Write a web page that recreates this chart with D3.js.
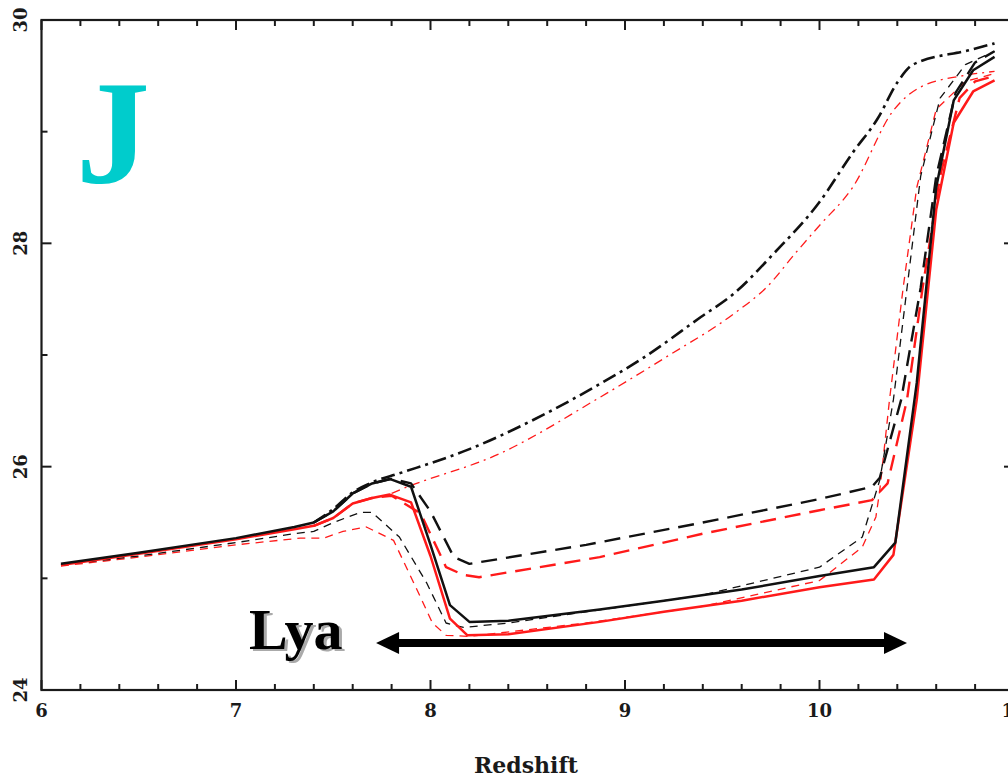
<!DOCTYPE html>
<html><head><meta charset="utf-8">
<script src="https://cdn.jsdelivr.net/npm/d3@7"></script>
<style>html,body{margin:0;padding:0;background:#fff;overflow:hidden}</style>
</head><body>
<svg id="c" width="1008" height="779"></svg>
<script>
// ---- data ----
const xTicksMajor = [6,7,8,9,10,11];
const yTicksMajor = [24,26,28,30];
const blackSolid = [[6.1,25.13],[6.5,25.23],[7.0,25.36],[7.3,25.46],[7.4,25.5],[7.5,25.6],[7.6,25.76],[7.7,25.85],[7.79,25.89],[7.9,25.82],[8.0,25.3],[8.1,24.76],[8.2,24.61],[8.4,24.62],[8.87,24.72],[9.2,24.8],[9.6,24.9],[10.0,25.02],[10.28,25.1],[10.39,25.32],[10.5,26.75],[10.6,28.5],[10.69,29.28],[10.79,29.55],[10.9,29.67]];
const redSolid = [[6.1,25.12],[6.5,25.22],[7.0,25.35],[7.3,25.44],[7.4,25.47],[7.5,25.54],[7.6,25.67],[7.7,25.72],[7.79,25.75],[7.9,25.68],[8.0,25.2],[8.1,24.64],[8.19,24.49],[8.4,24.5],[8.87,24.61],[9.2,24.7],[9.6,24.8],[10.0,24.92],[10.28,24.99],[10.38,25.21],[10.5,26.6],[10.6,28.3],[10.69,29.08],[10.79,29.36],[10.9,29.46]];
const blackLongDash = [[7.4,25.5],[7.5,25.6],[7.6,25.76],[7.7,25.85],[7.8,25.89],[7.9,25.85],[8.0,25.6],[8.12,25.19],[8.2,25.13],[8.8,25.3],[9.4,25.5],[10.0,25.71],[10.27,25.82],[10.31,25.9],[10.42,26.6],[10.52,27.6],[10.6,28.6],[10.7,29.35],[10.8,29.62],[10.9,29.72]];
const redLongDash = [[7.4,25.47],[7.5,25.54],[7.6,25.67],[7.7,25.72],[7.8,25.74],[7.95,25.58],[8.08,25.1],[8.17,25.03],[8.25,25.01],[8.87,25.19],[9.4,25.4],[10.0,25.61],[10.27,25.7],[10.35,25.85],[10.45,26.6],[10.53,27.6],[10.62,28.6],[10.72,29.3],[10.8,29.45],[10.9,29.5]];
const blackShortDash = [[6.1,25.12],[6.5,25.2],[7.0,25.32],[7.3,25.4],[7.4,25.42],[7.5,25.5],[7.64,25.59],[7.7,25.59],[7.84,25.37],[7.98,24.96],[8.08,24.6],[8.17,24.56],[8.4,24.6],[8.8,24.7],[9.4,24.85],[10.0,25.1],[10.22,25.37],[10.31,25.88],[10.38,26.6],[10.45,27.6],[10.52,28.6],[10.62,29.3],[10.75,29.6],[10.9,29.72]];
const redShortDash = [[6.1,25.11],[6.5,25.19],[7.0,25.3],[7.33,25.36],[7.45,25.36],[7.55,25.42],[7.67,25.46],[7.81,25.34],[7.93,24.9],[8.01,24.6],[8.08,24.49],[8.2,24.48],[8.8,24.6],[9.4,24.75],[10.0,24.98],[10.22,25.28],[10.29,25.55],[10.31,25.79],[10.36,26.6],[10.43,27.6],[10.5,28.5],[10.6,29.2],[10.75,29.45],[10.9,29.52]];
const blackDashDot = [[7.4,25.5],[7.5,25.62],[7.6,25.77],[7.7,25.86],[7.84,25.94],[8.19,26.15],[8.53,26.42],[8.84,26.71],[9.09,26.97],[9.39,27.34],[9.56,27.55],[9.76,27.9],[10.0,28.37],[10.17,28.81],[10.3,29.12],[10.4,29.44],[10.48,29.6],[10.77,29.73],[10.9,29.79]];
const redDashDot = [[7.8,25.76],[7.84,25.79],[8.36,26.12],[8.87,26.62],[9.21,26.98],[9.56,27.37],[9.73,27.61],[9.88,27.92],[10.0,28.16],[10.17,28.5],[10.38,29.19],[10.52,29.4],[10.77,29.51],[10.9,29.54]];
const lyaArrowX = [7.72, 10.45];
const lyaArrowY = 24.42;

// ---- layout ----
const svg = d3.select('#c');
const x = d3.scaleLinear().domain([6,11]).range([41.5,1014]);
const y = d3.scaleLinear().domain([24,30]).range([690,20]);
const axisColor = '#1a1a1a';
const tickFont = 'bold 18px "DejaVu Serif", serif';

// frame
const g = svg.append('g');
g.append('rect').attr('x',x(6)).attr('y',y(30)).attr('width',x(11)-x(6)).attr('height',y(24)-y(30))
 .attr('fill','none').attr('stroke',axisColor).attr('stroke-width',2.2);

// ticks
const xMinor = d3.range(6,11.0001,0.2).map(v=>+v.toFixed(1));
xMinor.forEach(v=>{
  const major = Math.abs(v-Math.round(v))<1e-6;
  const L = major?10:6;
  g.append('line').attr('x1',x(v)).attr('x2',x(v)).attr('y1',y(24)).attr('y2',y(24)-L).attr('stroke',axisColor).attr('stroke-width',2);
  g.append('line').attr('x1',x(v)).attr('x2',x(v)).attr('y1',y(30)).attr('y2',y(30)+L).attr('stroke',axisColor).attr('stroke-width',2);
});
d3.range(24,30.001,1).forEach(v=>{
  const major = v%2===0;
  const L = major?10:6;
  g.append('line').attr('x1',x(6)).attr('x2',x(6)+L).attr('y1',y(v)).attr('y2',y(v)).attr('stroke',axisColor).attr('stroke-width',2);
  g.append('line').attr('x1',x(11)).attr('x2',x(11)-L).attr('y1',y(v)).attr('y2',y(v)).attr('stroke',axisColor).attr('stroke-width',2);
});
xTicksMajor.forEach(v=>{
  g.append('text').attr('x',x(v)).attr('y',717).attr('text-anchor','middle')
   .style('font',tickFont).attr('fill',axisColor).text(v);
});
yTicksMajor.forEach(v=>{
  g.append('text').attr('transform',`translate(27,${y(v)}) rotate(-90)`).attr('text-anchor','middle')
   .style('font',tickFont).attr('fill',axisColor).text(v);
});
svg.append('text').attr('x',526).attr('y',773).attr('text-anchor','middle')
 .style('font','bold 22px "DejaVu Serif", serif').attr('fill',axisColor).text('Redshift');

// lines
const line = d3.line().x(d=>x(d[0])).y(d=>y(d[1]));
const smooth = d3.line().x(d=>x(d[0])).y(d=>y(d[1])).curve(d3.curveMonotoneX);
const series = [
  {d:redDashDot, c:'#ff1a1a', w:1.3, dash:'9,5,2,5', gen:smooth},
  {d:blackDashDot, c:'#111', w:2.6, dash:'14,5,3,5', gen:smooth},
  {d:redShortDash, c:'#ff1a1a', w:1.3, dash:'8,6', gen:line},
  {d:blackShortDash, c:'#111', w:1.3, dash:'8,6', gen:line},
  {d:redLongDash, c:'#ff1a1a', w:2.4, dash:'16,9', gen:line},
  {d:blackLongDash, c:'#111', w:2.4, dash:'16,9', gen:line},
  {d:redSolid, c:'#ff1a1a', w:2.5, dash:null, gen:line},
  {d:blackSolid, c:'#111', w:2.5, dash:null, gen:line},
];
series.forEach(s=>{
  svg.append('path').attr('d',s.gen(s.d)).attr('fill','none').attr('stroke',s.c)
   .attr('stroke-width',s.w).attr('stroke-dasharray',s.dash).attr('stroke-linejoin','round');
});

// J label
svg.append('text').attr('x',76).attr('y',183)
 .style('font','bold 148px "Liberation Serif", "Times New Roman", serif').attr('fill','#00cccc').text('J');

// Lya label with shadow
const lyaFont = 'bold 58px "Liberation Serif", "Times New Roman", serif';
svg.append('text').attr('x',252).attr('y',651).style('font',lyaFont).attr('fill','#aaaaaa').text('Lya');
svg.append('text').attr('x',249).attr('y',649).style('font',lyaFont).attr('fill','#000').text('Lya');

// double arrow
const ay = y(lyaArrowY), ax0 = x(lyaArrowX[0]), ax1 = x(lyaArrowX[1]);
svg.append('line').attr('x1',ax0+20).attr('x2',ax1-20).attr('y1',ay).attr('y2',ay).attr('stroke','#000').attr('stroke-width',8);
svg.append('path').attr('d',`M${ax0},${ay} L${ax0+23},${ay-11} L${ax0+23},${ay+11} Z`).attr('fill','#000');
svg.append('path').attr('d',`M${ax1},${ay} L${ax1-23},${ay-11} L${ax1-23},${ay+11} Z`).attr('fill','#000');
</script>
</body></html>
